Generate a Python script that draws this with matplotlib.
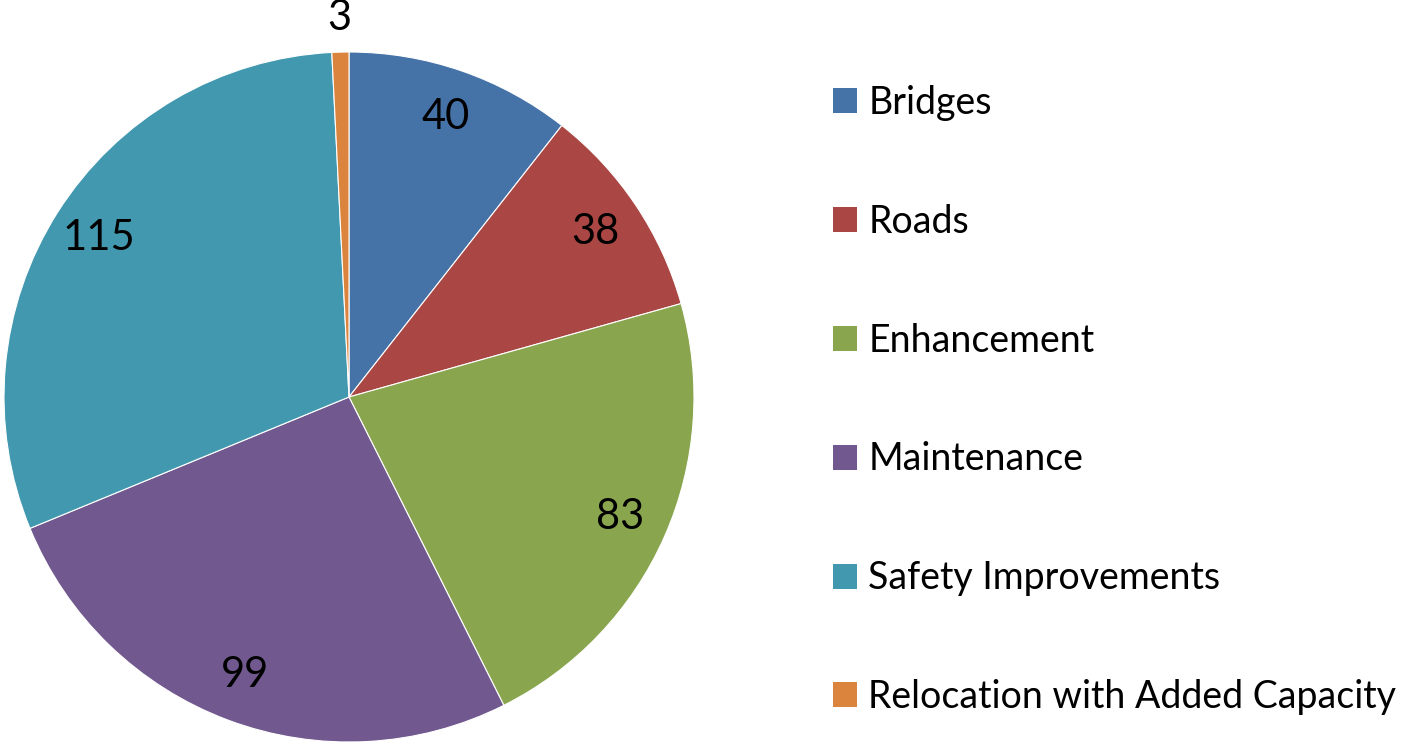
import matplotlib.pyplot as plt
from matplotlib.patches import Patch
import numpy as np

categories = ["Bridges", "Roads", "Enhancement", "Maintenance",
              "Safety Improvements", "Relocation with Added Capacity"]
values = [40, 38, 83, 99, 115, 3]
colors = ["#4572A7", "#AA4643", "#89A54E", "#71588F", "#4198AF", "#DB843D"]

plt.rcParams["font.family"] = ["Lato", "DejaVu Sans"]

fig = plt.figure(figsize=(14.16, 7.45), dpi=100)
# pie centre ~ (349, 397) px, radius ~345 px
ax = fig.add_axes([4 / 1416, 3 / 745, 690 / 1416, 690 / 745])

wedges, _ = ax.pie(values, colors=colors, startangle=90, counterclock=False,
                   radius=1.0, wedgeprops=dict(edgecolor="white", linewidth=0.8))
ax.set_xlim(-1, 1)
ax.set_ylim(-1, 1)
ax.set_aspect("equal")
ax.axis("off")

# value labels, inside except the tiny slice
total = sum(values)
start = 90.0
for v in values:
    ang = start - 360.0 * v / total / 2
    start -= 360.0 * v / total
    r = 0.86 if v > 10 else 1.1
    x = r * np.cos(np.radians(ang))
    y = r * np.sin(np.radians(ang))
    ax.text(x, y, str(v), ha="center", va="center", fontsize=30, color="black")

handles = [Patch(facecolor=c, edgecolor="none") for c in colors]
fig.legend(handles, categories, loc="upper left",
           bbox_to_anchor=(814 / 1416, 1 - 66 / 745), frameon=False,
           fontsize=27, labelspacing=2.21, handlelength=0.65, handleheight=0.65,
           handletextpad=0.3, borderpad=0)

fig.savefig("out.png", dpi=100, facecolor="white")
